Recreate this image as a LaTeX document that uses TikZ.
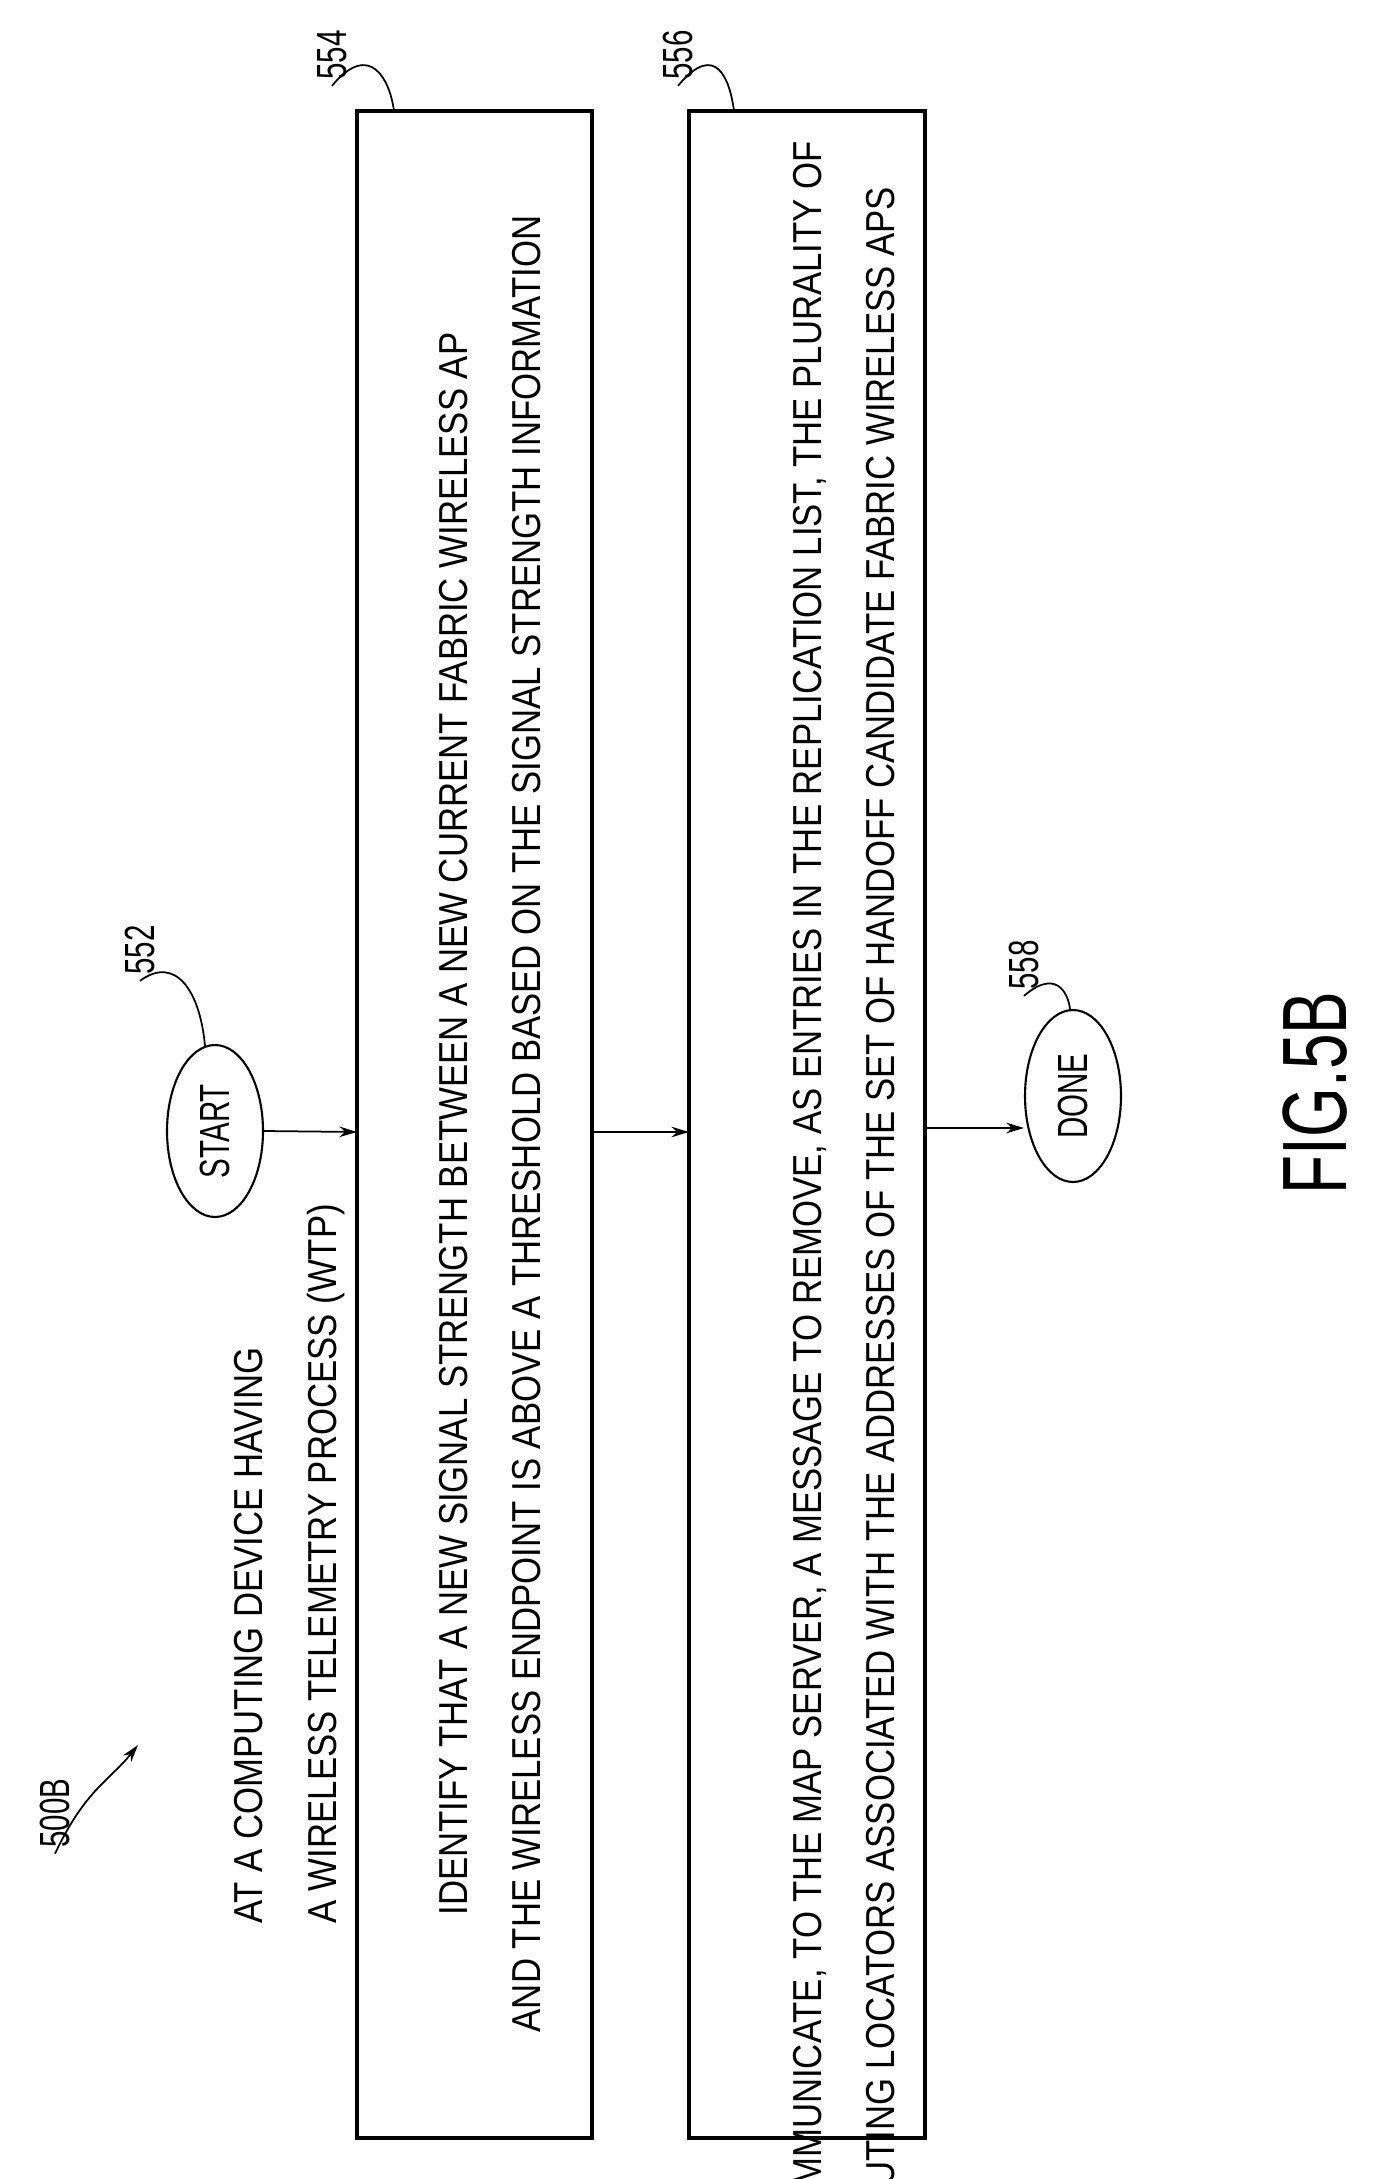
\documentclass[tikz,border=0pt]{standalone}
\usepackage{fontspec}
\setmainfont{Liberation Sans}
\newfontfamily\nar[FakeStretch=0.86]{Liberation Sans}
\newfontfamily\narl[FakeStretch=0.7]{Liberation Sans}
\usetikzlibrary{shapes.geometric,arrows.meta}
\begin{document}
\begin{tikzpicture}[x=0.02cm,y=-0.02cm,
  txt/.style={rotate=90,font=\nar\fontsize{23}{42}\selectfont,align=center},
  lbl/.style={rotate=90,font=\narl\fontsize{24}{26}\selectfont},
  box/.style={draw,line width=1.8pt},
  oval/.style={draw,ellipse,line width=1.2pt,rotate=90,minimum width=3.44cm,minimum height=1.92cm,inner sep=0pt,font=\narl\fontsize{24}{26}\selectfont},
  arr/.style={-{Stealth[length=10pt,width=6pt]},line width=1pt},
  lead/.style={line width=1pt}]
\useasboundingbox (0,0) rectangle (1384,2179);
\node[txt,align=left,anchor=north west] (hdr) at (228,1930) {AT A COMPUTING DEVICE HAVING\\A WIRELESS TELEMETRY PROCESS (WTP)};
\draw[box] (357,111) rectangle (592,2138);
\node[txt] (t1) at (490,1124) {IDENTIFY THAT A NEW SIGNAL STRENGTH BETWEEN A NEW CURRENT FABRIC WIRELESS AP\\AND THE WIRELESS ENDPOINT IS ABOVE A THRESHOLD BASED ON THE SIGNAL STRENGTH INFORMATION};
\draw[box] (689,111) rectangle (925,2138);
\node[txt,align=left] (t2) at (844,1190) {COMMUNICATE, TO THE MAP SERVER, A MESSAGE TO REMOVE, AS ENTRIES IN THE REPLICATION LIST, THE PLURALITY OF\\ROUTING LOCATORS ASSOCIATED WITH THE ADDRESSES OF THE SET OF HANDOFF CANDIDATE FABRIC WIRELESS APS};
\node[oval] (start) at (215,1131) {START};
\node[oval] (done) at (1073,1096) {DONE};
\coordinate (a1) at (357,1132);
\coordinate (a2s) at (592,1132);
\coordinate (a2) at (689,1132);
\coordinate (a3s) at (925,1128);
\draw[arr] (start.south) -- (a1);
\draw[arr] (a2s) -- (a2);
\draw[arr] (a3s) -- (a3s -| done.north);
\node[lbl] (l552) at (140,950) {552};
\node[lbl] (l554) at (332,55) {554};
\node[lbl] (l556) at (678,55) {556};
\node[lbl] (l558) at (1024,965) {558};
\node[lbl] (l500) at (55,1813) {500B};
\node[rotate=90,font=\narl\fontsize{52}{56}\selectfont] (fig) at (1315,1093) {FIG.5B};
\draw[lead] (l552.west) .. controls (175,955) and (200,990) .. (205,1046);
\draw[lead] (l554.west) .. controls (370,40) and (390,80) .. (394,111);
\draw[lead] (l556.west) .. controls (716,40) and (730,80) .. (734,111);
\draw[lead] (l558.west) .. controls (1060,965) and (1070,1000) .. (1070,1011);
\draw[arr] (l500.west) .. controls (85,1790) and (110,1780) .. (138,1745);
\end{tikzpicture}
\end{document}
